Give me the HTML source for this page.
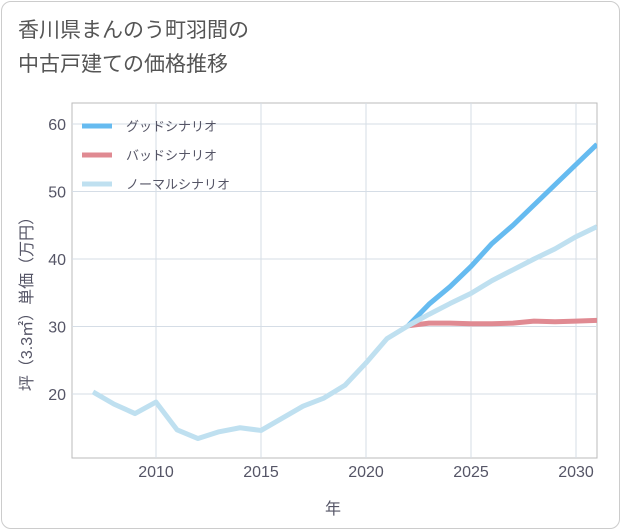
<!DOCTYPE html>
<html><head><meta charset="utf-8"><style>
body{margin:0;background:#fff;font-family:"Liberation Sans","Noto Sans CJK JP",sans-serif;}
#frame{position:absolute;left:1px;top:1px;width:617px;height:526px;border:1px solid #ccc;border-radius:10px;background:#fff;}
#title{position:absolute;left:18px;top:14px;font-size:21px;line-height:34px;color:#555;}
</style></head><body>
<div id="frame"></div>
<div id="title">香川県まんのう町羽間の<br>中古戸建ての価格推移</div>
<svg id="c" width="621" height="530" style="position:absolute;left:0;top:0"></svg>
<script>
const years=[2007,2008,2009,2010,2011,2012,2013,2014,2015,2016,2017,2018,2019,2020,2021,2022,2023,2024,2025,2026,2027,2028,2029,2030,2031];
const normal=[20.3,18.5,17.1,18.8,14.7,13.4,14.4,15.0,14.6,16.4,18.2,19.4,21.3,24.6,28.2,30.1,31.8,33.4,34.9,36.8,38.4,40.0,41.5,43.3,44.8];
const futYears=[2022,2023,2024,2025,2026,2027,2028,2029,2030,2031];
const good=[30.1,33.3,35.9,38.9,42.3,45.0,48.0,51.0,54.0,57.0];
const bad=[30.1,30.5,30.5,30.4,30.4,30.5,30.8,30.7,30.8,30.9];
const xTicks=[2010,2015,2020,2025,2030];
const yTicks=[20,30,40,50,60];
const L=72,R=597,T=103,B=458;
const x=v=>L+(v-2006)*(R-L)/(2031-2006);
const y=v=>394-(v-20)*6.75;
const s=document.getElementById('c');const NS='http://www.w3.org/2000/svg';
function el(t,a,txt){const e=document.createElementNS(NS,t);for(const k in a)e.setAttribute(k,a[k]);if(txt!=null)e.textContent=txt;s.appendChild(e);return e;}
let e=el('rect',{x:L,y:T,width:R-L,height:B-T,fill:'none',stroke:'#bbb'});

xTicks.forEach(t=>{let g=el('line',{x1:x(t),x2:x(t),y1:T,y2:B,stroke:'#d5dde6'});
let l=el('text',{x:x(t),y:477,'text-anchor':'middle','font-size':16,fill:'#556'},t);});
yTicks.forEach(t=>{let g=el('line',{x1:L,x2:R,y1:y(t),y2:y(t),stroke:'#d5dde6'});
let l=el('text',{x:66,y:y(t)+6,'text-anchor':'end','font-size':16,fill:'#556'},t);});
e=el('text',{x:333,y:514,'text-anchor':'middle','font-size':16,fill:'#556'},'年');
e=el('text',{x:0,y:0,'text-anchor':'middle','font-size':16,fill:'#556',transform:'translate(32,300) rotate(-90)'},'坪（3.3㎡）単価（万円）');
const defs=el('defs',{});const cp=document.createElementNS(NS,'clipPath');cp.setAttribute('id','cl');const cr=document.createElementNS(NS,'rect');
cr.setAttribute('x',L);cr.setAttribute('y',T);cr.setAttribute('width',R-L);cr.setAttribute('height',B-T);cp.appendChild(cr);defs.appendChild(cp);
function line(xs,vs,col,name){const d=xs.map((v,i)=>(i?'L':'M')+x(v)+','+y(vs[i])).join('');const p=el('path',{d:d,fill:'none',stroke:col,'stroke-width':5,'stroke-linejoin':'round','clip-path':'url(#cl)'});}
line(futYears,bad,'#e08a92','bad-scenario-line');
line(futYears,good,'#66bbf0','good-scenario-line');
line(years,normal,'#bfe0f0','normal-scenario-line');
const leg=[['グッドシナリオ','#66bbf0'],['バッドシナリオ','#e08a92'],['ノーマルシナリオ','#bfe0f0']];
leg.forEach((l,i)=>{const yy=126+i*29;let a=el('line',{x1:82,x2:112,y1:yy,y2:yy,stroke:l[1],'stroke-width':5});
let b=el('text',{x:126,y:yy+5,'font-size':13,fill:'#556'},l[0]);});
</script>
</body></html>
